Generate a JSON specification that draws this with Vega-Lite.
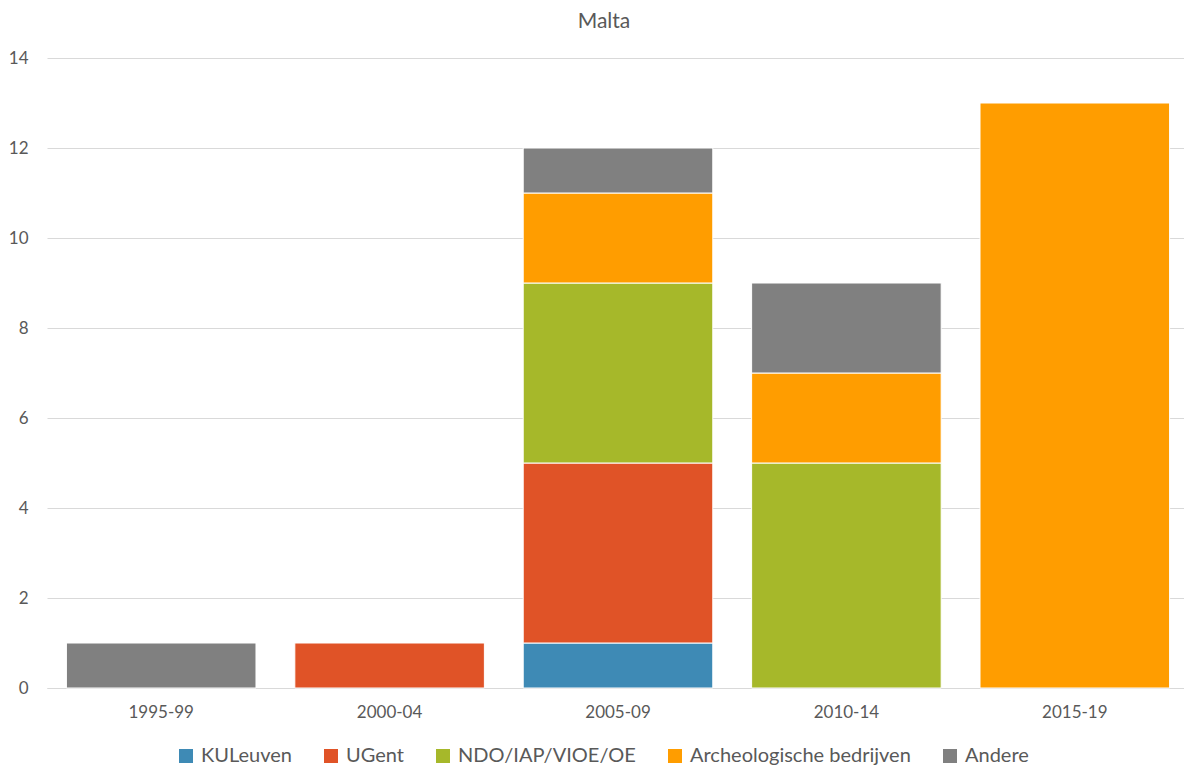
{
  "$schema": "https://vega.github.io/schema/vega-lite/v6.json",
  "width": 1142,
  "height": 630,
  "autosize": {"type": "none"},
  "padding": {"left": 47, "top": 58, "right": 0, "bottom": 77},
  "background": "white",
  "title": {"text": "Malta", "anchor": "middle", "font": "Lato", "fontSize": 21, "fontWeight": "normal", "color": "#595959", "offset": 17, "dx": -14},
  "data": {"values": [
    {"periode": "1995-99", "groep": "Andere", "aantal": 1},
    {"periode": "2000-04", "groep": "UGent", "aantal": 1},
    {"periode": "2005-09", "groep": "KULeuven", "aantal": 1},
    {"periode": "2005-09", "groep": "UGent", "aantal": 4},
    {"periode": "2005-09", "groep": "NDO/IAP/VIOE/OE", "aantal": 4},
    {"periode": "2005-09", "groep": "Archeologische bedrijven", "aantal": 2},
    {"periode": "2005-09", "groep": "Andere", "aantal": 1},
    {"periode": "2010-14", "groep": "NDO/IAP/VIOE/OE", "aantal": 5},
    {"periode": "2010-14", "groep": "Archeologische bedrijven", "aantal": 2},
    {"periode": "2010-14", "groep": "Andere", "aantal": 2},
    {"periode": "2015-19", "groep": "Archeologische bedrijven", "aantal": 13}
  ]},
  "transform": [
    {"calculate": "indexof(['KULeuven', 'UGent', 'NDO/IAP/VIOE/OE', 'Archeologische bedrijven', 'Andere'], datum.groep)", "as": "volgorde"}
  ],
  "mark": {"type": "bar", "stroke": "white", "strokeWidth": 1},
  "encoding": {
    "x": {"field": "periode", "type": "nominal", "title": null,
      "scale": {"paddingInner": 0.17, "paddingOuter": 0.085},
      "axis": {"labelAngle": 0, "ticks": false, "domainColor": "#D9D9D9", "labelFont": "Lato", "labelFontSize": 17, "labelColor": "#595959", "labelPadding": 16}},
    "y": {"field": "aantal", "type": "quantitative", "title": null, "stack": "zero",
      "scale": {"domain": [0, 14]},
      "axis": {"values": [0, 2, 4, 6, 8, 10, 12, 14], "domain": false, "ticks": false, "gridColor": "#D9D9D9", "labelFont": "Lato", "labelFontSize": 17, "labelColor": "#595959", "labelPadding": 19}},
    "order": {"field": "volgorde", "type": "quantitative", "sort": "ascending"},
    "color": {"field": "groep", "type": "nominal", "title": null,
      "sort": ["KULeuven", "UGent", "NDO/IAP/VIOE/OE", "Archeologische bedrijven", "Andere"],
      "scale": {"domain": ["KULeuven", "UGent", "NDO/IAP/VIOE/OE", "Archeologische bedrijven", "Andere"],
        "range": ["#3E8AB5", "#E05327", "#A6B82A", "#FF9D00", "#808080"]},
      "legend": {"orient": "none", "legendX": 129, "legendY": 688, "direction": "horizontal", "symbolType": "square", "symbolSize": 196, "symbolStrokeWidth": 0, "labelOffset": 5, "labelFont": "Lato", "labelFontSize": 20, "labelColor": "#595959", "labelLimit": 0, "columnPadding": 29}}
  },
  "config": {"view": {"stroke": null}}
}
